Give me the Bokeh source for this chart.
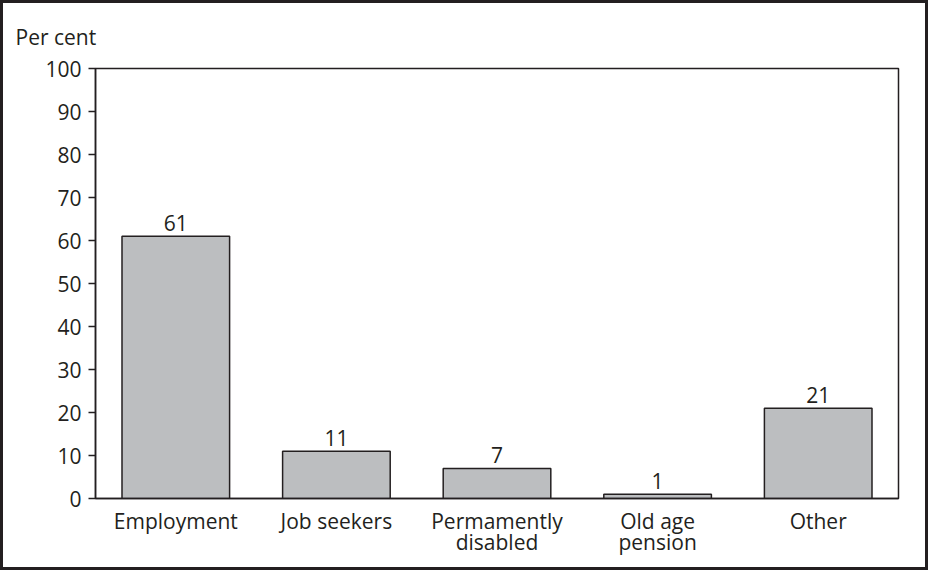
from bokeh.plotting import figure
from bokeh.models import Range1d, FactorRange, FixedTicker
from bokeh.core.properties import value
from bokeh.embed import file_html
from bokeh.resources import INLINE

# Share of income source, per cent
categories = ["Employment", "Job seekers", "Permamently\ndisabled", "Old age\npension", "Other"]
shares = [61, 11, 7, 1, 21]
y_ticks = [0, 10, 20, 30, 40, 50, 60, 70, 80, 90, 100]

INK = "#231f20"
BAR = "#bcbec0"
FONT = "Open Sans"
SIZE = "21px"

p = figure(
    width=922, height=564,
    x_range=FactorRange(*categories, range_padding=0),
    y_range=Range1d(0, 100),
    output_backend="svg", toolbar_location=None,
    min_border_left=92, min_border_right=33,
    min_border_top=64, min_border_bottom=75,
)
p.styles = {"border": f"3px solid {INK}", "box-sizing": "content-box"}

p.vbar(x=categories, top=shares, width=0.67,
       fill_color=BAR, line_color=INK, line_width=1.5)

p.text(x=categories, y=shares, text=[str(v) for v in shares],
       text_align="center", text_baseline="bottom", y_offset=-5,
       text_font=value(FONT), text_font_size=SIZE, text_color=INK)

p.xgrid.visible = False
p.ygrid.visible = False
p.outline_line_color = INK
p.outline_line_width = 1.5
p.outline_line_alpha = 1.0

for ax in (p.xaxis, p.yaxis):
    ax.axis_line_color = INK
    ax.axis_line_width = 1.5
    ax.major_label_text_font = FONT
    ax.major_label_text_font_size = SIZE
    ax.major_label_text_color = INK
    ax.minor_tick_line_color = None

p.yaxis.ticker = FixedTicker(ticks=y_ticks)
p.yaxis.major_tick_in = 0
p.yaxis.major_tick_out = 7
p.yaxis.major_tick_line_color = INK
p.yaxis.major_tick_line_width = 1.5
p.yaxis.major_label_standoff = 7

p.xaxis.major_tick_line_color = None
p.xaxis.major_tick_in = 0
p.xaxis.major_tick_out = 0
p.xaxis.major_label_standoff = 8
p.xaxis.major_label_text_line_height = 0.78

# unit caption, top left above the value axis
p.title.text = "Per cent"
p.title.align = "left"
p.title.offset = -80
p.title.standoff = 35
p.title.text_font = FONT
p.title.text_font_size = SIZE
p.title.text_font_style = "normal"
p.title.text_color = INK

open("out.html", "w").write(file_html(p, INLINE))
